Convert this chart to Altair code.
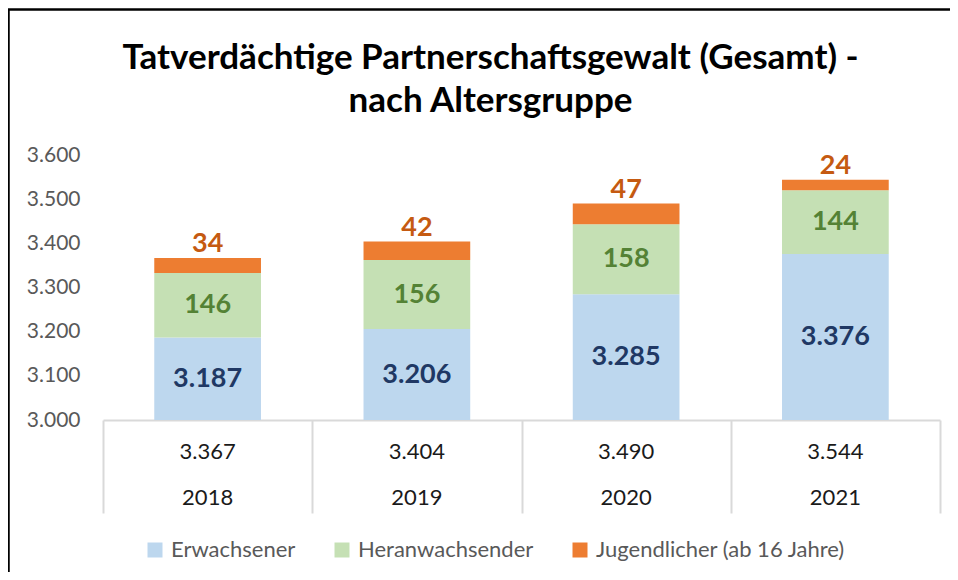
import altair as alt
import pandas as pd

# ---- data ----
years = ["2018", "2019", "2020", "2021"]
erwachsener = [3187, 3206, 3285, 3376]
heranwachsender = [146, 156, 158, 144]
jugendlicher = [34, 42, 47, 24]
gesamt = [3367, 3404, 3490, 3544]
groups = ["Erwachsener", "Heranwachsender", "Jugendlicher (ab 16 Jahre)"]
y_ticks = [3000, 3100, 3200, 3300, 3400, 3500, 3600]
y_min, y_max = 3000, 3600

bar_colors = ["#BDD7EE", "#C5E0B4", "#ED7D31"]
label_colors = ["#203864", "#548235", "#C55A11"]

rows = []
for i, yr in enumerate(years):
    vals = [erwachsener[i], heranwachsender[i], jugendlicher[i]]
    start = 0
    for g, v in zip(groups, vals):
        end = start + v
        rows.append({
            "year": yr, "group": g, "start": start, "end": end, "value": v,
            "mid": (max(start, y_min) + end) / 2,
        })
        start = end
df = pd.DataFrame(rows)
tot = pd.DataFrame({"year": years, "total": gesamt})

W, H = 837, 265
FONT = "Lato"
DE = "replace(format(datum.value, ','), ',', '.')"

x_enc = alt.X("year:N", sort=years,
              scale=alt.Scale(paddingInner=0, paddingOuter=0),
              axis=alt.Axis(title=None, labels=False, tickBand="extent",
                            tickSize=93, tickColor="#D9D9D9", tickWidth=2,
                            domainColor="#D9D9D9", domainWidth=2))
y_scale = alt.Scale(domain=[y_min, y_max], nice=False, zero=False)

base = alt.Chart(df)

bars = base.mark_bar(width=alt.RelativeBandSize(0.51), clip=True).encode(
    x=x_enc,
    y=alt.Y("start:Q", scale=y_scale,
            axis=alt.Axis(title=None, values=y_ticks,
                          labelExpr=DE,
                          labelFont=FONT, labelFontSize=21, labelColor="#595959",
                          domain=False, ticks=False, tickSize=0, grid=False,
                          labelPadding=23)),
    y2="end:Q",
    color=alt.Color("group:N", sort=groups,
                    scale=alt.Scale(domain=groups, range=bar_colors),
                    legend=alt.Legend(orient="none", legendX=41, legendY=384,
                                      direction="horizontal", title=None,
                                      symbolType="square", symbolSize=225,
                                      symbolStrokeWidth=0, labelLimit=500,
                                      labelFont=FONT, labelFontSize=22,
                                      labelColor="#595959", columnPadding=35,
                                      labelOffset=5)),
)

lab_e = base.transform_filter(alt.datum.group == groups[0]).transform_calculate(
    txt=DE).mark_text(font=FONT, fontSize=27, fontWeight="bold",
                      color=label_colors[0]).encode(
    x=alt.X("year:N", sort=years), y=alt.Y("mid:Q"), text="txt:N")
lab_h = base.transform_filter(alt.datum.group == groups[1]).transform_calculate(
    txt=DE).mark_text(font=FONT, fontSize=27, fontWeight="bold",
                      color=label_colors[1]).encode(
    x=alt.X("year:N", sort=years), y=alt.Y("mid:Q"), text="txt:N")
lab_j = base.transform_filter(alt.datum.group == groups[2]).transform_calculate(
    txt=DE).mark_text(font=FONT, fontSize=27, fontWeight="bold",
                      color=label_colors[2], dy=-14).encode(
    x=alt.X("year:N", sort=years), y=alt.Y("end:Q"), text="txt:N")

tbl = alt.Chart(tot).transform_calculate(
    txt="replace(format(datum.total, ','), ',', '.')")
tot_text = tbl.mark_text(font=FONT, fontSize=22, color="#1A1A1A").encode(
    x=alt.X("year:N", sort=years), y=alt.value(H + 32), text="txt:N")
year_text = tbl.mark_text(font=FONT, fontSize=22, color="#1A1A1A").encode(
    x=alt.X("year:N", sort=years), y=alt.value(H + 78), text="year:N")

one = alt.Chart(pd.DataFrame({"a": [0]}))
border_left = one.mark_rule(color="black", strokeWidth=2.5).encode(
    x=alt.value(-94.5), y=alt.value(-145.5), y2=alt.value(H + 160))
border_top = one.mark_rule(color="black", strokeWidth=2.5).encode(
    x=alt.value(-95.5), x2=alt.value(W + 20), y=alt.value(-145.5))

chart = alt.layer(bars, lab_e, lab_h, lab_j, tot_text, year_text,
                  border_left, border_top).properties(
    width=W, height=H,
    padding={"left": 95, "top": 147, "right": 10, "bottom": 152},
    autosize=alt.AutoSizeParams(type="none"),
    title=alt.TitleParams(["Tatverdächtige Partnerschaftsgewalt (Gesamt) -",
                           "nach Altersgruppe"],
                          font=FONT, fontSize=35, fontWeight="bold",
                          color="black", anchor="middle", dx=-31,
                          offset=28, dy=139, lineHeight=43),
).configure(background="white", view=alt.ViewConfig(stroke=None))

chart.save("out.html", embed_options={"renderer": "svg", "actions": False})
